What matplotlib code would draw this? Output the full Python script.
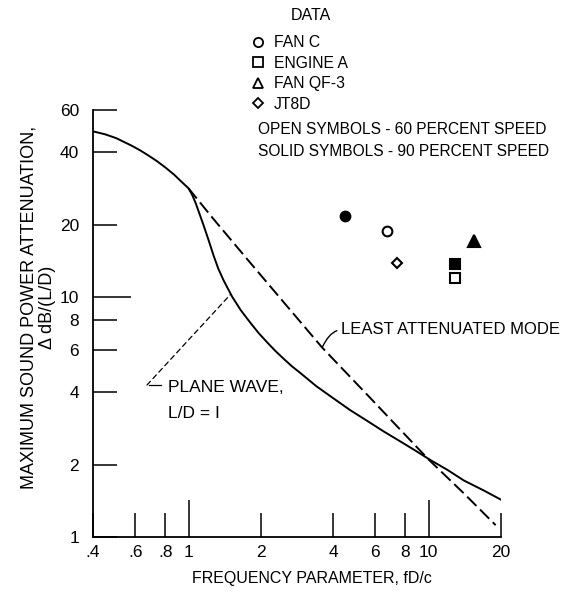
import numpy as np
import matplotlib.pyplot as plt
from matplotlib.lines import Line2D
from matplotlib.ticker import FixedLocator, FixedFormatter

# curva solida - onda plana, L/D = 1
plane_f = [0.4, 0.45, 0.5, 0.535, 0.58, 0.63, 0.68, 0.737, 0.8, 0.87, 0.93, 1.0,
           1.035, 1.07, 1.11, 1.15, 1.21, 1.27, 1.33, 1.4, 1.46, 1.52, 1.65, 1.8,
           1.95, 2.12, 2.3, 2.5, 2.7, 2.92, 3.4, 4.01, 4.7, 5.53, 6.5, 7.62,
           8.8, 10.1, 12.0, 14.0, 17.0, 20.0]
plane_db = [48.9, 47.5, 45.8, 44.3, 42.6, 40.7, 38.8, 36.8, 34.6, 32.3, 30.3, 28.3,
            26.6, 24.6, 22.2, 20.1, 17.3, 14.9, 13.1, 11.7, 10.8, 10.0, 8.8, 7.85,
            7.1, 6.48, 5.95, 5.5, 5.13, 4.82, 4.25, 3.78, 3.38, 3.05, 2.75, 2.5,
            2.29, 2.1, 1.9, 1.72, 1.56, 1.43]

# curva tracejada - modo menos atenuado
mode_f = [1.0, 1.25, 1.75, 2.5, 3.6, 5.7, 7.36, 10.0, 14.0, 19.0]
mode_db = [28.3, 21.5, 14.4, 9.45, 6.15, 3.8, 2.9, 2.1, 1.52, 1.12]

# pontos medidos
engines = ['FAN C', 'ENGINE A', 'FAN QF-3', 'JT8D']
speed60_f = [6.7, 12.9, np.nan, 7.4]
speed60_db = [18.8, 12.0, np.nan, 13.9]
speed90_f = [4.5, 12.9, 15.4, np.nan]
speed90_db = [21.8, 13.7, 17.1, np.nan]

x_major = [1, 10]
x_minor = [0.4, 0.6, 0.8, 2, 4, 6, 8, 20]
x_minor_labels = ['.4', '.6', '.8', '2', '4', '6', '8', '20']
y_major = [10]
y_minor = [1, 2, 4, 6, 8, 20, 40, 60]

markers = ['o', 's', '^', 'D']
msizes = [7, 7, 8, 5.5]

plt.rcParams['font.family'] = ['Liberation Sans', 'DejaVu Sans']

fig = plt.figure(figsize=(5.71, 5.91), dpi=100)
ax = fig.add_axes([93 / 571, 1 - 537 / 591, 408 / 571, 427 / 591])
ax.set_xscale('log')
ax.set_yscale('log')
ax.set_xlim(0.4, 20)
ax.set_ylim(1, 60)

ax.plot(plane_f, plane_db, color='black', lw=1.4, solid_joinstyle='round')
ax.plot(mode_f, mode_db, color='black', lw=1.4, dashes=(6.7, 2.6))

for i in range(len(engines)):
    ax.plot(speed60_f[i], speed60_db[i], linestyle='none', marker=markers[i],
            ms=msizes[i], mfc='white', mec='black', mew=1.5)
    ax.plot(speed90_f[i], speed90_db[i], linestyle='none', marker=markers[i],
            ms=msizes[i], mfc='black', mec='black', mew=1.5)

# eixos
for s in ['top', 'right']:
    ax.spines[s].set_visible(False)
for s in ['left', 'bottom']:
    ax.spines[s].set_linewidth(1.3)

ax.xaxis.set_major_locator(FixedLocator(x_major))
ax.xaxis.set_major_formatter(FixedFormatter([str(v) for v in x_major]))
ax.xaxis.set_minor_locator(FixedLocator(x_minor))
ax.xaxis.set_minor_formatter(FixedFormatter(x_minor_labels))
ax.yaxis.set_major_locator(FixedLocator(y_major))
ax.yaxis.set_major_formatter(FixedFormatter([str(v) for v in y_major]))
ax.yaxis.set_minor_locator(FixedLocator(y_minor))
ax.yaxis.set_minor_formatter(FixedFormatter([str(v) for v in y_minor]))

ax.tick_params(axis='both', which='both', direction='in', width=1.1, labelsize=12.5)
ax.tick_params(axis='both', which='major', length=27)
ax.tick_params(axis='both', which='minor', length=17)
ax.tick_params(axis='x', which='both', pad=6)
ax.tick_params(axis='y', which='both', pad=10)

# rotulos dos eixos
fig.text(29, 591 - 307, 'MAXIMUM SOUND POWER ATTENUATION,', rotation=90,
         ha='center', va='center', fontsize=13, transform=None)
fig.text(48, 591 - 307, '\u0394 dB/(L/D)', rotation=90,
         ha='center', va='center', fontsize=13, transform=None)
fig.text(312, 591 - 578, 'FREQUENCY PARAMETER, fD/c', ha='center', va='center',
         fontsize=11.5, transform=None)

# legenda
fig.text(311, 591 - 15, 'DATA', ha='center', va='center', fontsize=11.5, transform=None)
handles = [Line2D([], [], linestyle='none', marker=markers[i], ms=msizes[i] * 0.95,
                  mfc='white', mec='black', mew=1.3) for i in range(len(engines))]
leg = fig.legend(handles, engines, loc='upper left',
                 bbox_to_anchor=(252 / 571, 1 - 35 / 591), frameon=False,
                 fontsize=11.3, handlelength=0.8, handletextpad=0.6,
                 labelspacing=0.36, borderaxespad=0, borderpad=0)

fig.text(258, 591 - 130, 'OPEN SYMBOLS - 60 PERCENT SPEED', ha='left', va='center',
         fontsize=11.2, transform=None)
fig.text(258, 591 - 152, 'SOLID SYMBOLS - 90 PERCENT SPEED', ha='left', va='center',
         fontsize=11.2, transform=None)

# anotacoes
ax.annotate('LEAST ATTENUATED MODE', xy=(mode_f[4], mode_db[4]),
            xytext=(341, 591 - 330), textcoords='figure pixels',
            ha='left', va='center', fontsize=12,
            arrowprops=dict(arrowstyle='-', lw=1.0, color='black', shrinkA=1, shrinkB=0,
                            relpos=(0, 0.5),
                            connectionstyle='angle3,angleA=0,angleB=65'))
ax.annotate('', xy=(1.49, 10.2), xytext=(147, 591 - 385), textcoords='figure pixels',
            arrowprops=dict(arrowstyle='-', lw=0.9, color='black', linestyle=(0, (4, 3)),
                            shrinkA=0, shrinkB=0))
fig.add_artist(Line2D([149, 161], [591 - 385, 591 - 385], color='black', lw=0.9,
                      transform=None))
fig.text(168, 591 - 387, 'PLANE WAVE,', ha='left', va='center', fontsize=12.5,
         transform=None)
fig.text(168, 591 - 413, 'L/D = I', ha='left', va='center', fontsize=12.5,
         transform=None)

plt.savefig('out.png', dpi=100)
